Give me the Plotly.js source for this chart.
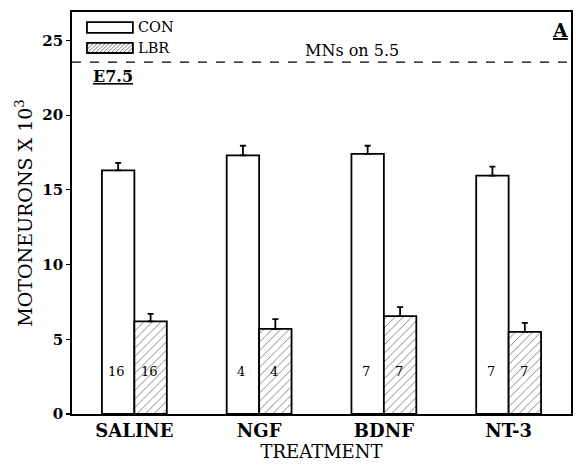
<!DOCTYPE html>
<html>
<head>
<meta charset="utf-8">
<script src="https://cdn.plot.ly/plotly-3.0.1.min.js"></script>
<style>html,body{margin:0;padding:0;background:#fff;}#chart{width:576px;height:468px;}</style>
</head>
<body>
<div id="chart"></div>
<script>
// ---- data ----
const categories = ["SALINE", "NGF", "BDNF", "NT-3"];
const conValues = [16.3, 17.3, 17.4, 15.95];
const conErrors = [0.5, 0.65, 0.55, 0.6];
const lbrValues = [6.2, 5.7, 6.55, 5.5];
const lbrErrors = [0.5, 0.65, 0.6, 0.6];
const conN = [16, 4, 7, 7];
const lbrN = [16, 4, 7, 7];
const nLabelY = 2.85;
const mnsOnE55 = 23.55;
const zeros = [0, 0, 0, 0];

const serif = "DejaVu Serif, Liberation Serif, serif";

const traces = [
  {
    type: "bar", name: "CON", x: categories, y: conValues,
    marker: {color: "white", line: {color: "black", width: 1.8}},
    error_y: {type: "data", symmetric: false, array: conErrors, arrayminus: zeros,
              color: "black", thickness: 1.8, width: 3},
    showlegend: false, hoverinfo: "skip"
  },
  {
    type: "bar", name: "LBR", x: categories, y: lbrValues,
    marker: {color: "white", line: {color: "black", width: 1.8},
             pattern: {shape: "/", fgcolor: "#555", bgcolor: "white", size: 6, solidity: 0.12}},
    error_y: {type: "data", symmetric: false, array: lbrErrors, arrayminus: zeros,
              color: "black", thickness: 1.8, width: 3},
    showlegend: false, hoverinfo: "skip"
  }
];

const annotations = [];
categories.forEach((c, i) => {
  annotations.push({x: c, y: nLabelY, xref: "x", yref: "y", text: String(conN[i]), showarrow: false,
    xshift: -18, font: {family: serif, size: 13, color: "black"}});
  annotations.push({x: c, y: nLabelY, xref: "x", yref: "y", text: String(lbrN[i]), showarrow: false,
    xshift: 15, font: {family: serif, size: 13, color: "black"}});
});
annotations.push({xref: "paper", yref: "y", x: 0.561, y: mnsOnE55, text: "MNs on 5.5", showarrow: false,
  yanchor: "bottom", yshift: 0, font: {family: serif, size: 16, color: "black"}});
annotations.push({xref: "paper", yref: "paper", x: 0.038, y: 0.84, xanchor: "left", yanchor: "middle",
  text: "<b><u>E7.5</u></b>", showarrow: false, font: {family: serif, size: 16, color: "black"}});
annotations.push({xref: "paper", yref: "paper", x: 0.997, y: 0.955, xanchor: "right", yanchor: "middle",
  text: "<b><u>A</u></b>", showarrow: false, font: {family: serif, size: 19, color: "black"}});
// legend labels
annotations.push({xref: "paper", yref: "paper", x: 0.128, y: 0.9615, xanchor: "left", yanchor: "middle",
  text: "CON", showarrow: false, font: {family: serif, size: 14.5, color: "black"}});
annotations.push({xref: "paper", yref: "paper", x: 0.128, y: 0.9105, xanchor: "left", yanchor: "middle",
  text: "LBR", showarrow: false, font: {family: serif, size: 14.5, color: "black"}});

const hatchSvg = '<svg xmlns="http://www.w3.org/2000/svg" width="46" height="11" viewBox="0 0 46 11">' +
  '<rect x="0" y="0" width="46" height="11" fill="white"/>' +
  Array.from({length: 14}, (_, k) => '<line x1="' + (k*4 - 8) + '" y1="11" x2="' + (k*4 + 3) + '" y2="0" stroke="#555" stroke-width="0.8"/>').join('') +
  '</svg>';
const hatchUri = "data:image/svg+xml;utf8," + encodeURIComponent(hatchSvg);

const layout = {
  width: 576, height: 468,
  margin: {l: 72, r: 5, t: 12, b: 54},
  paper_bgcolor: "white", plot_bgcolor: "white",
  barmode: "group", bargap: 0.48, bargroupgap: 0,
  showlegend: false,
  font: {family: serif, color: "black"},
  xaxis: {
    type: "category", range: [-0.5, 3.5],
    showline: true, linecolor: "black", linewidth: 1.8, mirror: true,
    ticks: "", showgrid: false, zeroline: false,
    tickfont: {family: serif, size: 18, color: "black", weight: "bold"},
    title: {text: "TREATMENT", font: {family: serif, size: 18, color: "black"}, standoff: 3}
  },
  yaxis: {
    range: [0, 26.9], dtick: 5, tick0: 0,
    showline: true, linecolor: "black", linewidth: 1.8, mirror: true,
    ticks: "outside", ticklen: 4, tickwidth: 1.2, tickcolor: "black",
    showgrid: false, zeroline: false,
    tickfont: {family: serif, size: 15, color: "black", weight: "bold"},
    title: {text: "MOTONEURONS X 10<sup>3</sup>", font: {family: serif, size: 19, color: "black"}, standoff: 5}
  },
  shapes: [
    {type: "line", xref: "paper", yref: "y", x0: 0, x1: 1, y0: mnsOnE55, y1: mnsOnE55,
     line: {color: "black", width: 1.2, dash: "dash"}},
    {type: "rect", xref: "paper", yref: "paper", x0: 0.030, x1: 0.122, y0: 0.948, y1: 0.975,
     line: {color: "black", width: 1.8}, fillcolor: "white"},
    {type: "rect", xref: "paper", yref: "paper", x0: 0.030, x1: 0.122, y0: 0.898, y1: 0.923,
     line: {color: "black", width: 1.8}, fillcolor: "rgba(0,0,0,0)", layer: "above"}
  ],
  images: [
    {source: hatchUri, xref: "paper", yref: "paper", x: 0.030, y: 0.923, sizex: 0.092, sizey: 0.025,
     xanchor: "left", yanchor: "top", sizing: "stretch", layer: "below"}
  ],
  annotations: annotations
};

Plotly.newPlot("chart", traces, layout, {displayModeBar: false, staticPlot: true});
</script>
</body>
</html>
